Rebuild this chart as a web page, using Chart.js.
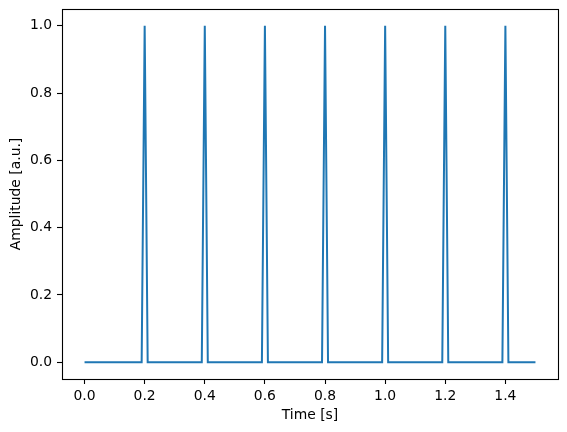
<!DOCTYPE html>
<html>
<head>
<meta charset="utf-8">
<script src="https://cdn.jsdelivr.net/npm/chart.js@4"></script>
<style>
    html, body { margin: 0; padding: 0; background: #ffffff; }
    #wrap { width: 567px; height: 432px; }
</style>
</head>
<body>
<div id="wrap"><canvas id="pulse-chart" width="567" height="432"></canvas></div>
<script>
// Sample times [s] and amplitudes
const timeValues = [
    0.0,
    0.19, 0.20, 0.21,
    0.39, 0.40, 0.41,
    0.59, 0.60, 0.61,
    0.79, 0.80, 0.81,
    0.99, 1.00, 1.01,
    1.19, 1.20, 1.21,
    1.39, 1.40, 1.41,
    1.5
];
const amplitudeValues = [
    0,
    0, 1, 0,
    0, 1, 0,
    0, 1, 0,
    0, 1, 0,
    0, 1, 0,
    0, 1, 0,
    0, 1, 0,
    0
];

// Tick labels
const xTicks = [0.0, 0.2, 0.4, 0.6, 0.8, 1.0, 1.2, 1.4];
const yTicks = [0.0, 0.2, 0.4, 0.6, 0.8, 1.0];

const textColor = '#000000';
const fontSpec = { family: 'DejaVu Sans', size: 13.9 };

// Draw the full box around the plot area (matplotlib spines)
const frameBox = {
    id: 'frameBox',
    afterDraw(chart) {
        const { ctx, chartArea: a } = chart;
        ctx.save();
        ctx.strokeStyle = '#000000';
        ctx.lineWidth = 1.1;
        ctx.strokeRect(Math.round(a.left) + 0.5, Math.round(a.top) + 0.5,
            Math.round(a.right - a.left), Math.round(a.bottom - a.top));
        ctx.restore();
    }
};

new Chart(document.getElementById('pulse-chart'), {
    type: 'line',
    data: {
        datasets: [{
            data: timeValues.map((t, i) => ({ x: t, y: amplitudeValues[i] })),
            borderColor: '#1f77b4',
            borderWidth: 2,
            pointRadius: 0,
            tension: 0,
            fill: false
        }]
    },
    options: {
        responsive: false,
        animation: false,
        layout: { padding: { top: 9, right: 9, left: 0, bottom: 0 } },
        plugins: {
            legend: { display: false },
            tooltip: { enabled: false }
        },
        scales: {
            x: {
                type: 'linear',
                min: -0.075,
                max: 1.575,
                afterBuildTicks: axis => { axis.ticks = xTicks.map(v => ({ value: v })); },
                afterFit: scale => {
                    scale.height = 53;
                    scale.paddingLeft = 0;
                    scale.paddingRight = 0;
                },
                grid: {
                    drawOnChartArea: false,
                    drawTicks: true,
                    tickLength: 5,
                    tickWidth: 1.1,
                    tickColor: '#000000'
                },
                border: { display: false },
                ticks: {
                    color: textColor,
                    font: fontSpec,
                    padding: 4,
                    maxRotation: 0,
                    callback: v => Number(v).toFixed(1)
                },
                title: {
                    display: true,
                    text: 'Time [s]',
                    color: textColor,
                    font: fontSpec,
                    padding: { top: 0, bottom: 8 }
                }
            },
            y: {
                type: 'linear',
                min: -0.05,
                max: 1.05,
                afterBuildTicks: axis => { axis.ticks = yTicks.map(v => ({ value: v })); },
                afterFit: scale => {
                    scale.width = 62;
                    scale.paddingTop = 0;
                    scale.paddingBottom = 0;
                },
                grid: {
                    drawOnChartArea: false,
                    drawTicks: true,
                    tickLength: 5,
                    tickWidth: 1.1,
                    tickColor: '#000000'
                },
                border: { display: false },
                ticks: {
                    color: textColor,
                    font: fontSpec,
                    padding: 5,
                    callback: v => Number(v).toFixed(1)
                },
                title: {
                    display: true,
                    text: 'Amplitude [a.u.]',
                    color: textColor,
                    font: fontSpec,
                    padding: { top: 8, bottom: 0 }
                }
            }
        }
    },
    plugins: [frameBox]
});
</script>
</body>
</html>
